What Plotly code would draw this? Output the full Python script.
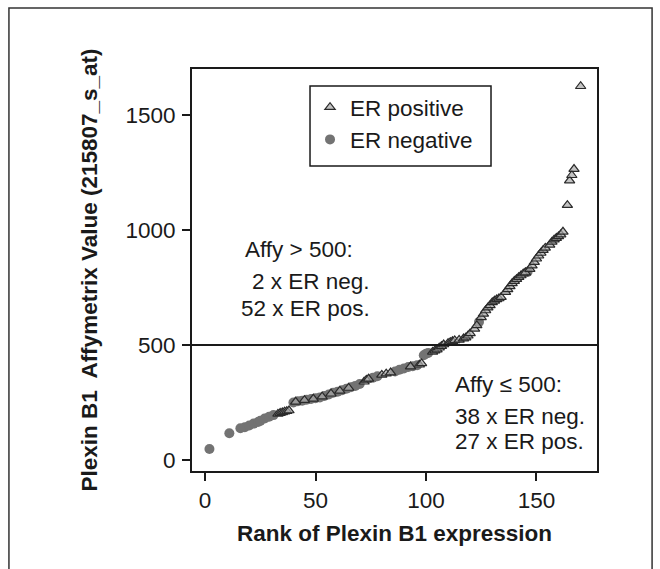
import plotly.graph_objects as go

# Rank of Plexin B1 expression and Affymetrix value (215807_s_at), by ER status
er_pos_rank = [33, 34, 35, 36, 37, 38, 41, 45, 49, 53, 57, 61, 65, 72, 73, 74,
               80, 82, 84, 93, 97, 98, 103, 104, 105, 106, 107,
               108, 110, 111, 112, 113, 115, 117, 118, 119, 120, 122, 123,
               125, 126, 127, 128, 129, 130, 131, 132, 133, 134,
               136, 137, 138, 139, 140, 141, 142, 143, 144, 145,
               147, 148, 149, 150, 151, 152, 153, 154,
               156, 157, 158, 159, 160, 161, 162,
               164, 165, 166, 167, 170]
er_pos_value = [200, 204, 207, 210, 212, 215, 253, 260, 266, 275, 288, 300, 313, 340, 348, 353,
                370, 375, 380, 406, 414, 420, 470, 475, 480, 488, 495,
                502, 508, 512, 516, 520, 522, 528, 532, 540, 550, 570, 585,
                620, 635, 650, 662, 672, 685, 692, 698, 702, 708,
                730, 742, 755, 768, 778, 786, 795, 802, 810, 815,
                830, 845, 860, 875, 888, 900, 912, 922,
                935, 948, 958, 965, 972, 980, 992,
                1108, 1215, 1238, 1265, 1625]

er_neg_rank = [2, 11, 16, 18, 20, 22, 24, 25, 27, 29, 31,
               40, 42, 44, 46, 48, 50, 52, 54, 56, 58,
               60, 62, 64, 66, 68, 70, 76, 78,
               86, 88, 90, 92, 94, 96, 99, 100, 101,
               124, 146]
er_neg_value = [48, 116, 138, 142, 150, 158, 165, 170, 180, 188, 195,
                250, 255, 258, 262, 265, 268, 272, 278, 285, 292,
                297, 303, 310, 316, 322, 330, 358, 364,
                385, 392, 398, 404, 408, 412, 455, 462, 465,
                600, 818]

cutoff = 500
x_ticks = [0, 50, 100, 150]
y_ticks = [0, 500, 1000, 1500]

neg_hi = sum(v > cutoff for v in er_neg_value)
neg_lo = sum(v <= cutoff for v in er_neg_value)
pos_hi = sum(v > cutoff for v in er_pos_value)
pos_lo = sum(v <= cutoff for v in er_pos_value)

FONT = "Liberation Sans, Arial, sans-serif"
INK = "#1a1a1a"
FS = 22.5

fig = go.Figure()
fig.add_trace(go.Scatter(
    x=er_neg_rank, y=er_neg_value, mode="markers", name="ER negative",
    legendrank=2,
    marker=dict(symbol="circle", size=10, color="#737373", line=dict(width=0)),
))
fig.add_trace(go.Scatter(
    x=er_pos_rank, y=er_pos_value, mode="markers", name="ER positive",
    legendrank=1,
    marker=dict(symbol="triangle-up", size=9, color="rgba(170,170,170,0.7)",
                line=dict(width=1.2, color="#2a2a2a")),
))

axis_common = dict(
    showline=True, mirror=True, linecolor=INK, linewidth=2,
    showgrid=False, zeroline=False,
    ticks="outside", ticklen=8, tickwidth=2, tickcolor=INK,
    tickfont=dict(family=FONT, size=FS, color=INK),
)

fig.update_xaxes(
    range=[-5.9, 177.4], tickvals=x_ticks, ticktext=[str(t) for t in x_ticks],
    title=dict(text="Rank of Plexin B1 expression", standoff=13,
               font=dict(family=FONT, size=22.5, color=INK, weight="bold")),
    **axis_common,
)
fig.update_yaxes(
    range=[-48, 1700], tickvals=y_ticks, ticktext=[str(t) for t in y_ticks],
    ticklabelstandoff=2,
    title=dict(text="Plexin B1\u00a0 Affymetrix Value (215807_s_at)\u00a0\u00a0\u00a0",
               standoff=22,
               font=dict(family=FONT, size=22.5, color=INK, weight="bold")),
    **axis_common,
)

shapes = [
    # cutoff line
    dict(type="line", xref="paper", yref="y", x0=0, x1=1, y0=cutoff, y1=cutoff,
         line=dict(color=INK, width=2)),
    # legend frame
    dict(type="rect", xref="paper", yref="paper", x0=0.2914, x1=0.7383, y0=0.7587, y1=0.9577,
         line=dict(color=INK, width=1.5)),
    # figure frame
    dict(type="rect", xref="paper", yref="paper", x0=-0.452, x1=1.136, y0=-0.30, y1=1.152,
         line=dict(color="#333333", width=1.5)),
]

tfont = dict(family=FONT, size=FS, color=INK)
annotations = [
    dict(x=17.3, y=913, text="Affy > 500:", xanchor="left"),
    dict(x=75.5, y=775, text=f"{neg_hi} x ER neg.", xanchor="right"),
    dict(x=75.5, y=660, text=f"{pos_hi} x ER pos.", xanchor="right"),
    dict(x=112.1, y=326, text="Affy \u2264 500:", xanchor="left"),
    dict(x=112.1, y=188, text=f"{neg_lo} x ER neg.", xanchor="left"),
    dict(x=112.1, y=80, text=f"{pos_lo} x ER pos.", xanchor="left"),
]
for a in annotations:
    a.update(xref="x", yref="y", yanchor="middle", showarrow=False, font=tfont)

fig.update_layout(
    width=660, height=569,
    margin=dict(l=192, r=63, t=69, b=98),
    paper_bgcolor="white", plot_bgcolor="white",
    shapes=shapes, annotations=annotations,
    showlegend=True,
    legend=dict(x=0.2914, y=0.9577, xanchor="left", yanchor="top",
                bgcolor="rgba(0,0,0,0)", borderwidth=0,
                font=dict(family=FONT, size=FS, color=INK),
                itemsizing="trace", tracegroupgap=0),
)

fig.write_html("out.html")
